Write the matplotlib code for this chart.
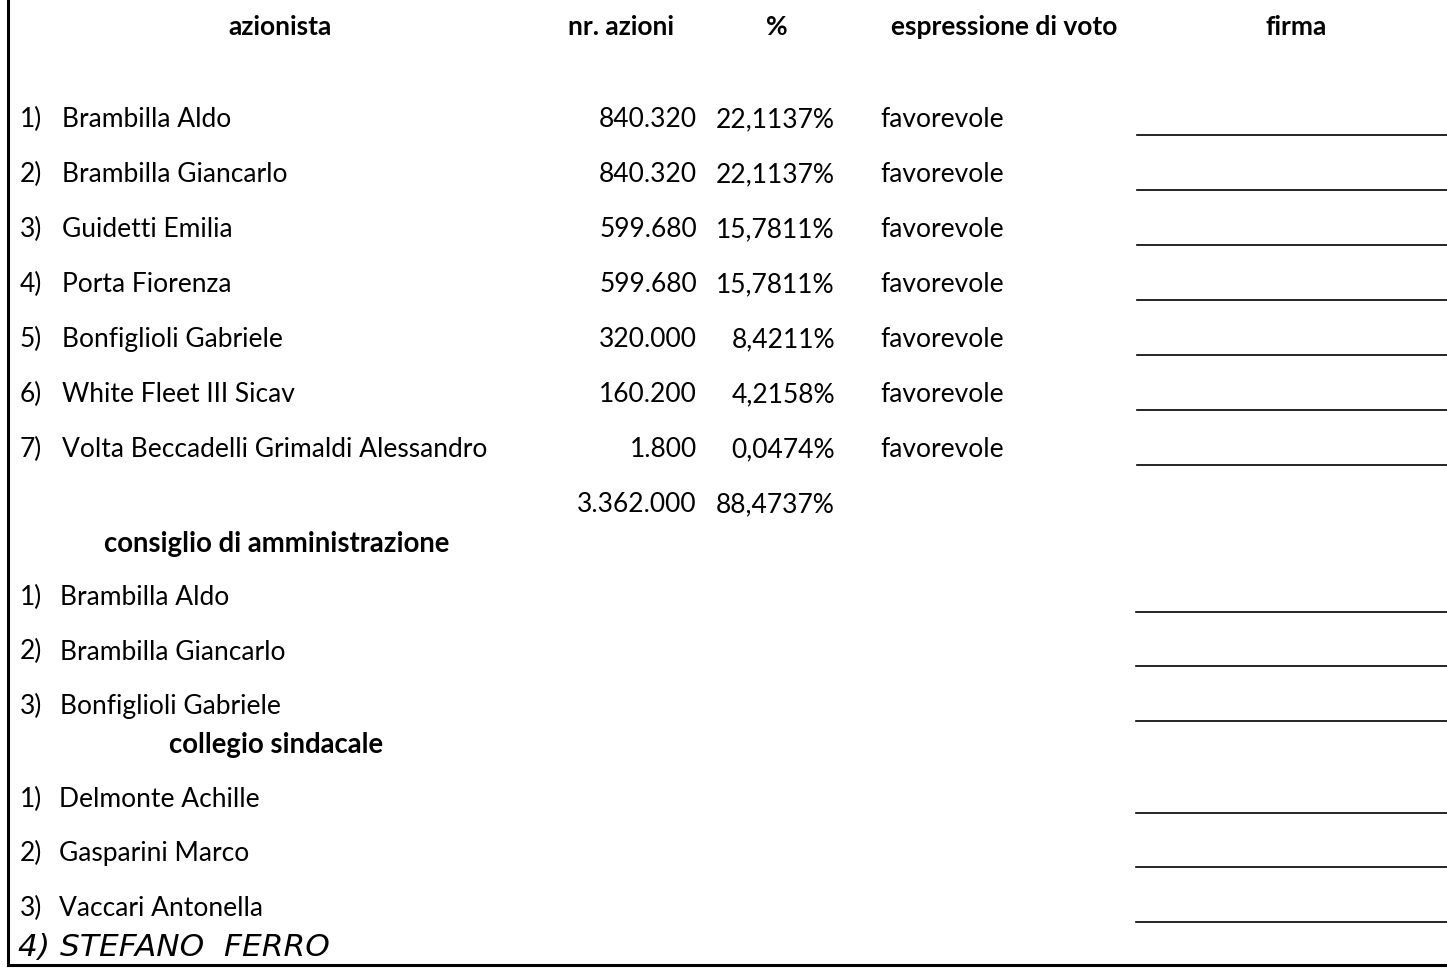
import matplotlib
matplotlib.use("Agg")
import matplotlib.pyplot as plt

# ---- data ----
headers = ["azionista", "nr. azioni", "%", "espressione di voto", "firma"]
shareholders = ["Brambilla Aldo", "Brambilla Giancarlo", "Guidetti Emilia", "Porta Fiorenza",
                "Bonfiglioli Gabriele", "White Fleet III Sicav",
                "Volta Beccadelli Grimaldi Alessandro"]
shares = ["840.320", "840.320", "599.680", "599.680", "320.000", "160.200", "1.800"]
percents = ["22,1137%", "22,1137%", "15,7811%", "15,7811%", "8,4211%", "4,2158%", "0,0474%"]
votes = ["favorevole"] * 7
total_shares = "3.362.000"
total_percent = "88,4737%"
board_title = "consiglio di amministrazione"
board = ["Brambilla Aldo", "Brambilla Giancarlo", "Bonfiglioli Gabriele"]
auditors_title = "collegio sindacale"
auditors = ["Delmonte Achille", "Gasparini Marco", "Vaccari Antonella"]
handwritten = "4) STEFANO  FERRO"

W, H = 1447, 971
fig = plt.figure(figsize=(W / 100, H / 100), dpi=100)
ax = fig.add_axes([0, 0, 1, 1])
ax.set_xlim(0, W)
ax.set_ylim(H, 0)
ax.axis("off")

FONT = "Lato"
FS = 19
BASE = 10  # baseline offset from row centre

def txt(x, y, s, ha="left", bold=False, fs=FS, **kw):
    ax.text(x, y + BASE, s, ha=ha, va="baseline", fontsize=fs, family=FONT,
            fontweight="bold" if bold else "normal", color="black", **kw)

# headers
hx = [280, 621, 777, 1004, 1296]
for x, h in zip(hx, headers):
    txt(x, 25, h, ha="center", bold=True)

# shareholders
row0, step = 117, 55
for i, (n, s, p, v) in enumerate(zip(shareholders, shares, percents, votes)):
    y = row0 + i * step
    txt(20, y, f"{i + 1})")
    txt(62, y, n)
    txt(697, y, s, ha="right")
    txt(835, y, p, ha="right")
    txt(880, y, v)
    ax.plot([1137, W], [y + 18, y + 18], color="black", lw=1.2)

ytot = row0 + len(shareholders) * step
txt(697, ytot, total_shares, ha="right")
txt(835, ytot, total_percent, ha="right")

# board
txt(277, 542, board_title, ha="center", bold=True, fs=19.8)
for i, n in enumerate(board):
    y = 595 + i * 54.5
    txt(20, y, f"{i + 1})")
    txt(60, y, n)
    ax.plot([1136, W], [y + 17, y + 17], color="black", lw=1.2)

# auditors
txt(276, 743, auditors_title, ha="center", bold=True, fs=19.8)
for i, n in enumerate(auditors):
    y = 797 + i * 54.5
    txt(20, y, f"{i + 1})")
    txt(59, y, n)
    ax.plot([1136, W], [y + 16, y + 16], color="black", lw=1.2)

ax.text(18, 956, handwritten, ha="left", va="baseline", fontsize=22.5,
        family="DejaVu Sans", fontstyle="italic", color="black")

# border
ax.plot([8, 8], [0, 965], color="black", lw=2.2)
ax.plot([8, W], [965, 965], color="black", lw=2.2)

fig.savefig("out.png", dpi=100, facecolor="white")
